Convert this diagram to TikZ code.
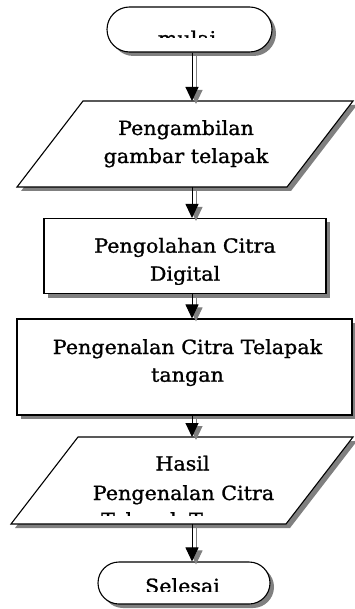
\documentclass[tikz,border=0pt]{standalone}
\usepackage{fontspec}
\setmainfont[FakeStretch=1.06,FakeBold=1.2]{DejaVu Serif}
\usetikzlibrary{arrows.meta,shadows,shapes.misc}

\begin{document}
\begin{tikzpicture}[x=1pt,y=-1pt,
  box/.style={draw=black, line width=1.1pt, fill=white, inner sep=0pt,
    drop shadow={shadow xshift=4pt, shadow yshift=-4pt, fill=black!50, opacity=1}},
  lbl/.style={anchor=base, inner sep=0pt, font=\fontsize{19.5}{23}\selectfont},
  flow/.style={line width=1pt, -{Triangle[width=13pt,length=14pt]}},
  flowshade/.style={flow, draw=black!50, fill=black!50,
    transform canvas={xshift=4pt, yshift=-3pt}}
]
\useasboundingbox (0,0) rectangle (355,609);

% terminals and process boxes
\node[box, rounded rectangle, minimum width=165pt, minimum height=45pt] (mulai) at (189.5,29.5) {};
\node[box, rectangle, minimum width=282pt, minimum height=75pt] (olah) at (185,256) {};
\node[box, rectangle, minimum width=335pt, minimum height=96pt] (kenal) at (184.5,367) {};
\node[box, rounded rectangle, minimum width=172pt, minimum height=42pt] (selesai) at (184,583) {};

% input/output parallelograms
\path[box] (17,187) -- (83,101) -- (353,101) -- (287,187) -- cycle;
\coordinate (ambilTop) at (192,101);
\coordinate (ambilBot) at (192,187);
\path[box] (11,524) -- (78,437) -- (353,437) -- (286,524) -- cycle;
\coordinate (hasilTop) at (192,437);
\coordinate (hasilBot) at (192,524);

% connectors: grey offset copy first, black arrow on top
\foreach \a/\b in {{mulai.south -| ambilTop}/ambilTop, ambilBot/{olah.north -| ambilBot},
                   {olah.south -| ambilBot}/{kenal.north -| ambilBot},
                   {kenal.south -| ambilBot}/hasilTop, hasilBot/{selesai.north -| hasilBot}} {
  \draw[flowshade] (\a) -- (\b);
  \draw[flow] (\a) -- (\b);
}

% texts, cut off where they overflow their boxes
\begin{scope}
  \clip (107,7) rectangle (272,37.5);
  \node[lbl] (tMulai) at (187,45.4) {mulai};
\end{scope}

\node[lbl] (tAmbil1) at (186,135) {Pengambilan};
\node[lbl] (tAmbil2) at (186,163) {gambar telapak};

\begin{scope}
  \clip (44,219) rectangle (326,284.5);
  \node[lbl] (tOlah1) at (185,252.7) {Pengolahan Citra};
  \node[lbl] (tOlah2) at (185,280.7) {Digital};
\end{scope}

\node[lbl] (tKenal1) at (187.5,354) {Pengenalan Citra Telapak};
\node[lbl] (tKenal2) at (187.5,381.7) {tangan};

\begin{scope}
  \clip (60,438) rectangle (330,515.5);
  \node[lbl] (tHasil1) at (182.5,470.5) {Hasil};
  \node[lbl] (tHasil2) at (183.5,500) {Pengenalan Citra};
  \node[lbl] (tHasil3) at (183.5,527) {Telapak Tangan};
\end{scope}

\begin{scope}
  \clip (98,562) rectangle (270,591);
  \node[lbl] (tSelesai) at (182.5,593) {Selesai};
\end{scope}
\end{tikzpicture}
\end{document}
